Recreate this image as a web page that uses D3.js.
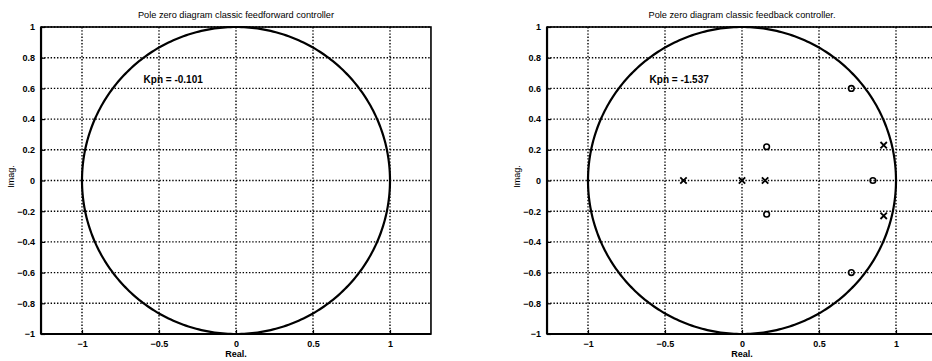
<!DOCTYPE html>
<html>
<head>
<meta charset="utf-8">
<script src="https://cdn.jsdelivr.net/npm/d3@7"></script>
<style>
  html, body { margin: 0; padding: 0; background: #fff; }
  svg { display: block; font-family: "Liberation Sans", Arial, sans-serif; }
</style>
</head>
<body>
<svg id="chart" width="932" height="361"></svg>
<script>
// Panel titles and gain annotations
const titles = ["Pole zero diagram classic feedforward controller", "Pole zero diagram classic feedback controller."];
const gains = ["Kpn = -0.101", "Kpn = -1.537"];

// Tick values shared by both panels
const xTicks = [-1, -0.5, 0, 0.5, 1];
const yTicks = [-1, -0.8, -0.6, -0.4, -0.2, 0, 0.2, 0.4, 0.6, 0.8, 1];

// Feedback controller: zeros (o) and poles (x), as [real, imag]
const zerosRe = [0.71, 0.71, 0.16, 0.16, 0.85];
const zerosIm = [0.60, -0.60, 0.22, -0.22, 0];
const polesRe = [0.92, 0.92, -0.38, 0, 0.15];
const polesIm = [0.23, -0.23, 0, 0, 0];

// The feedforward controller has no zeros/poles drawn inside the plot
const panelZeros = [[], zerosRe.map((r, i) => [r, zerosIm[i]])];
const panelPoles = [[], polesRe.map((r, i) => [r, polesIm[i]])];

const svg = d3.select("#chart");
const unit = 154;            // pixels per unit on the x axis
const xHalf = 1.266;         // half-width of the x domain
const panelCenters = [236, 742];
const yTop = 27, yBottom = 334;

panelCenters.forEach((cx, p) => {
  const x = d3.scaleLinear().domain([-xHalf, xHalf]).range([cx - xHalf * unit, cx + xHalf * unit]);
  const y = d3.scaleLinear().domain([-1, 1]).range([yBottom, yTop]);
  const g = svg.append("g");
  const [x0, x1] = x.range();

  // dotted grid
  g.selectAll(".vgrid").data(xTicks).join("line")
    .attr("x1", d => x(d)).attr("x2", d => x(d))
    .attr("y1", yTop).attr("y2", yBottom)
    .attr("stroke", "#000").attr("stroke-width", 1.4).attr("stroke-dasharray", "1.4,1.8");
  g.selectAll(".hgrid").data(yTicks).join("line")
    .attr("x1", x0).attr("x2", x1)
    .attr("y1", d => y(d)).attr("y2", d => y(d))
    .attr("stroke", "#000").attr("stroke-width", 1.4).attr("stroke-dasharray", "1.4,1.8");

  // unit circle
  const circ = d3.range(0, 361).map(a => [Math.cos(a * Math.PI / 180), Math.sin(a * Math.PI / 180)]);
  g.append("path")
    .attr("d", d3.line().x(d => x(d[0])).y(d => y(d[1]))(circ))
    .attr("fill", "none").attr("stroke", "#000").attr("stroke-width", 2.2);

  // axis box
  g.append("rect").attr("x", x0).attr("y", yTop).attr("width", x1 - x0).attr("height", yBottom - yTop)
    .attr("fill", "none").attr("stroke", "#000").attr("stroke-width", 1.6);
  g.append("line").attr("x1", x0).attr("x2", x0).attr("y1", yTop).attr("y2", yBottom)
    .attr("stroke", "#000").attr("stroke-width", 2.2);
  g.append("line").attr("x1", x0).attr("x2", x1).attr("y1", yBottom).attr("y2", yBottom)
    .attr("stroke", "#000").attr("stroke-width", 2.2);

  // axes with inward ticks
  const xAxis = d3.axisBottom(x).tickValues(xTicks).tickSizeInner(-4).tickSizeOuter(0).tickPadding(8)
    .tickFormat(d => d3.format("")(d));
  const yAxis = d3.axisLeft(y).tickValues(yTicks).tickSizeInner(-4).tickSizeOuter(0).tickPadding(8)
    .tickFormat(d => d === 0 ? "0" : d3.format("")(+d.toFixed(1)));
  const gx = g.append("g").attr("transform", `translate(0,${yBottom})`).call(xAxis);
  const gy = g.append("g").attr("transform", `translate(${x0},0)`).call(yAxis);
  [gx, gy].forEach(a => {
    a.select(".domain").remove();
    a.selectAll(".tick line").attr("stroke", "#000").attr("stroke-width", 1.2);
    a.selectAll("text").attr("fill", "#000").attr("font-size", 9).attr("font-weight", "bold")
      .attr("font-family", "'Liberation Sans', Arial, sans-serif");
  });
  gx.selectAll("text").attr("dy", "0.55em");
  gy.selectAll("text").attr("dx", "2");

  // title and axis labels
  g.append("text").attr("x", cx).attr("y", 18).attr("text-anchor", "middle")
    .attr("font-size", 9.2).text(titles[p]);
  g.append("text").attr("x", cx).attr("y", 357).attr("text-anchor", "middle")
    .attr("font-size", 9).attr("font-weight", "bold").text("Real.");
  g.append("text").attr("transform", `translate(${x0 - 27},${(yTop + yBottom) / 2 - 4}) rotate(-90)`)
    .attr("text-anchor", "middle").attr("font-size", 9).text("Imag.");

  // gain annotation
  g.append("text").attr("x", x(-0.6)).attr("y", y(0.66)).attr("dy", "0.35em")
    .attr("font-size", 10).attr("font-weight", "bold").text(gains[p]);

  // zeros
  g.selectAll(".zero").data(panelZeros[p]).join("circle")
    .attr("cx", d => x(d[0])).attr("cy", d => y(d[1])).attr("r", 2.8)
    .attr("fill", "none").attr("stroke", "#000").attr("stroke-width", 1.6);

  // poles
  const s = 3.2;
  g.selectAll(".pole").data(panelPoles[p]).join("path")
    .attr("d", d => {
      const px = x(d[0]), py = y(d[1]);
      return `M${px - s},${py - s}L${px + s},${py + s}M${px - s},${py + s}L${px + s},${py - s}`;
    })
    .attr("stroke", "#000").attr("stroke-width", 1.8).attr("fill", "none");
});
</script>
</body>
</html>
